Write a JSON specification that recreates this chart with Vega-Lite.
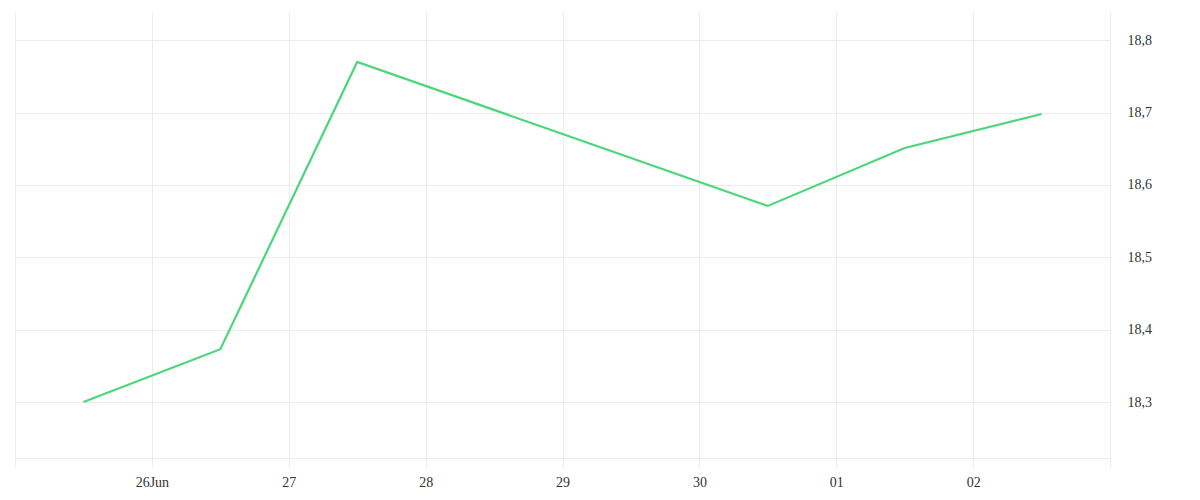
{
  "$schema": "https://vega.github.io/schema/vega-lite/v6.json",
  "width": 1095,
  "height": 446,
  "autosize": "none",
  "padding": {"left": 15, "top": 12, "right": 90, "bottom": 42},
  "background": "white",
  "config": {
    "view": {"stroke": null},
    "font": "Liberation Serif",
    "axis": {"labelFont": "Liberation Serif", "labelFontSize": 14, "labelColor": "#333333", "gridColor": "#ececec", "gridWidth": 1}
  },
  "data": {
    "values": [
      {"date": "2024-06-25T12:00:00", "value": 18.300},
      {"date": "2024-06-26T12:00:00", "value": 18.373},
      {"date": "2024-06-27T12:00:00", "value": 18.770},
      {"date": "2024-06-30T12:00:00", "value": 18.571},
      {"date": "2024-07-01T12:00:00", "value": 18.651},
      {"date": "2024-07-02T12:00:00", "value": 18.698}
    ]
  },
  "mark": {"type": "line", "color": "#4cd67c", "strokeWidth": 2.2},
  "encoding": {
    "x": {
      "field": "date",
      "type": "temporal",
      "scale": {"domain": [{"year": 2024, "month": 6, "date": 25}, {"year": 2024, "month": 7, "date": 3}]},
      "axis": {
        "title": null,
        "values": [
          {"year": 2024, "month": 6, "date": 25},
          {"year": 2024, "month": 6, "date": 26},
          {"year": 2024, "month": 6, "date": 27},
          {"year": 2024, "month": 6, "date": 28},
          {"year": 2024, "month": 6, "date": 29},
          {"year": 2024, "month": 6, "date": 30},
          {"year": 2024, "month": 7, "date": 1},
          {"year": 2024, "month": 7, "date": 2},
          {"year": 2024, "month": 7, "date": 3}
        ],
        "labelExpr": "(month(datum.value) == 5 && date(datum.value) == 25) || (month(datum.value) == 6 && date(datum.value) == 3) ? '' : (month(datum.value) == 5 && date(datum.value) == 26 ? '26Jun' : timeFormat(datum.value, '%d'))",
        "grid": true,
        "domain": true,
        "domainColor": "#ececec",
        "tickColor": "#ececec",
        "tickSize": 9,
        "labelPadding": 8,
        "labelFlush": false,
        "labelOverlap": false
      }
    },
    "y": {
      "field": "value",
      "type": "quantitative",
      "scale": {"domain": [18.2227, 18.839], "nice": false, "zero": false},
      "axis": {
        "orient": "right",
        "title": null,
        "values": [18.3, 18.4, 18.5, 18.6, 18.7, 18.8],
        "labelExpr": "replace(format(datum.value, '.1f'), '.', ',')",
        "grid": true,
        "domain": true,
        "domainColor": "#ececec",
        "domainWidth": 1,
        "ticks": false,
        "labelPadding": 17
      }
    }
  }
}
